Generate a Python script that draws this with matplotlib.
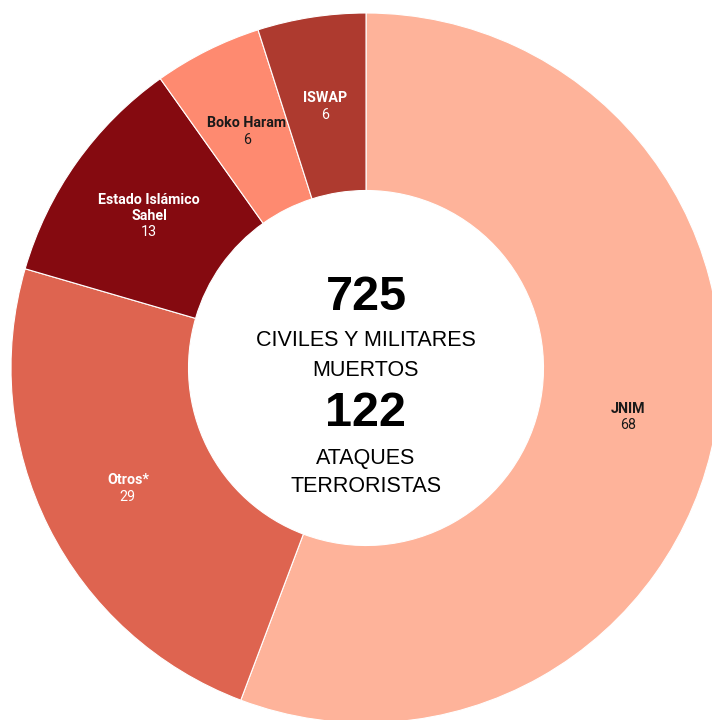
import matplotlib
matplotlib.use("Agg")
import matplotlib.pyplot as plt
import numpy as np

# datos
grupos = ["JNIM", "Otros*", "Estado Islámico\nSahel", "Boko Haram", "ISWAP"]
ataques = [68, 29, 13, 6, 6]
colores = ["#FEB39A", "#DE6450", "#850A10", "#FE8A70", "#AE3A2F"]
color_texto = ["#1a1a1a", "white", "white", "#1a1a1a", "white"]
total_muertos = 725
total_ataques = sum(ataques)

fig = plt.figure(figsize=(7.12, 7.2), dpi=100)
# centro en (366, 368) px, radio 355 px
ax = fig.add_axes([11 / 712, (720 - 368 - 355) / 720, 710 / 712, 710 / 720])
wedges, _ = ax.pie(ataques, colors=colores, startangle=90, counterclock=False,
                   radius=1.0, wedgeprops=dict(width=0.5, edgecolor="white", linewidth=0.8))
ax.set_xlim(-1, 1)
ax.set_ylim(-1, 1)
ax.set_aspect("auto")
ax.axis("off")

# etiquetas en el centro del anillo
paso = 16.5 / 355  # interlineado
for w, nombre, val, c in zip(wedges, grupos, ataques, color_texto):
    ang = np.deg2rad((w.theta1 + w.theta2) / 2)
    x, y = 0.75 * np.cos(ang), 0.75 * np.sin(ang)
    L = nombre.count("\n") + 2
    offs = [((L - 1) / 2 - i) * paso for i in range(L)]
    y_nombre = y + np.mean(offs[:-1])
    y_valor = y + offs[-1]
    ax.text(x, y_nombre, nombre, ha="center", va="center_baseline", fontsize=10.3,
            fontweight="bold", family="Roboto", color=c, linespacing=1.15)
    ax.text(x, y_valor, str(val), ha="center", va="center_baseline", fontsize=10.3,
            family="Roboto", color=c)

def py(p):
    return (368 - p) / 355

cfont = "Liberation Sans"
ax.text(0, py(292), str(total_muertos), ha="center", va="center_baseline",
        fontsize=35, fontweight="bold", family=cfont)
ax.text(0, py(338), "CIVILES Y MILITARES", ha="center", va="center_baseline",
        fontsize=15.5, family=cfont)
ax.text(0, py(368), "MUERTOS", ha="center", va="center_baseline",
        fontsize=15.5, family=cfont)
ax.text(0, py(408), str(total_ataques), ha="center", va="center_baseline",
        fontsize=35, fontweight="bold", family=cfont)
ax.text(0, py(456), "ATAQUES", ha="center", va="center_baseline",
        fontsize=15.5, family=cfont)
ax.text(0, py(484.5), "TERRORISTAS", ha="center", va="center_baseline",
        fontsize=15.5, family=cfont)

plt.savefig("out.png", dpi=100)
